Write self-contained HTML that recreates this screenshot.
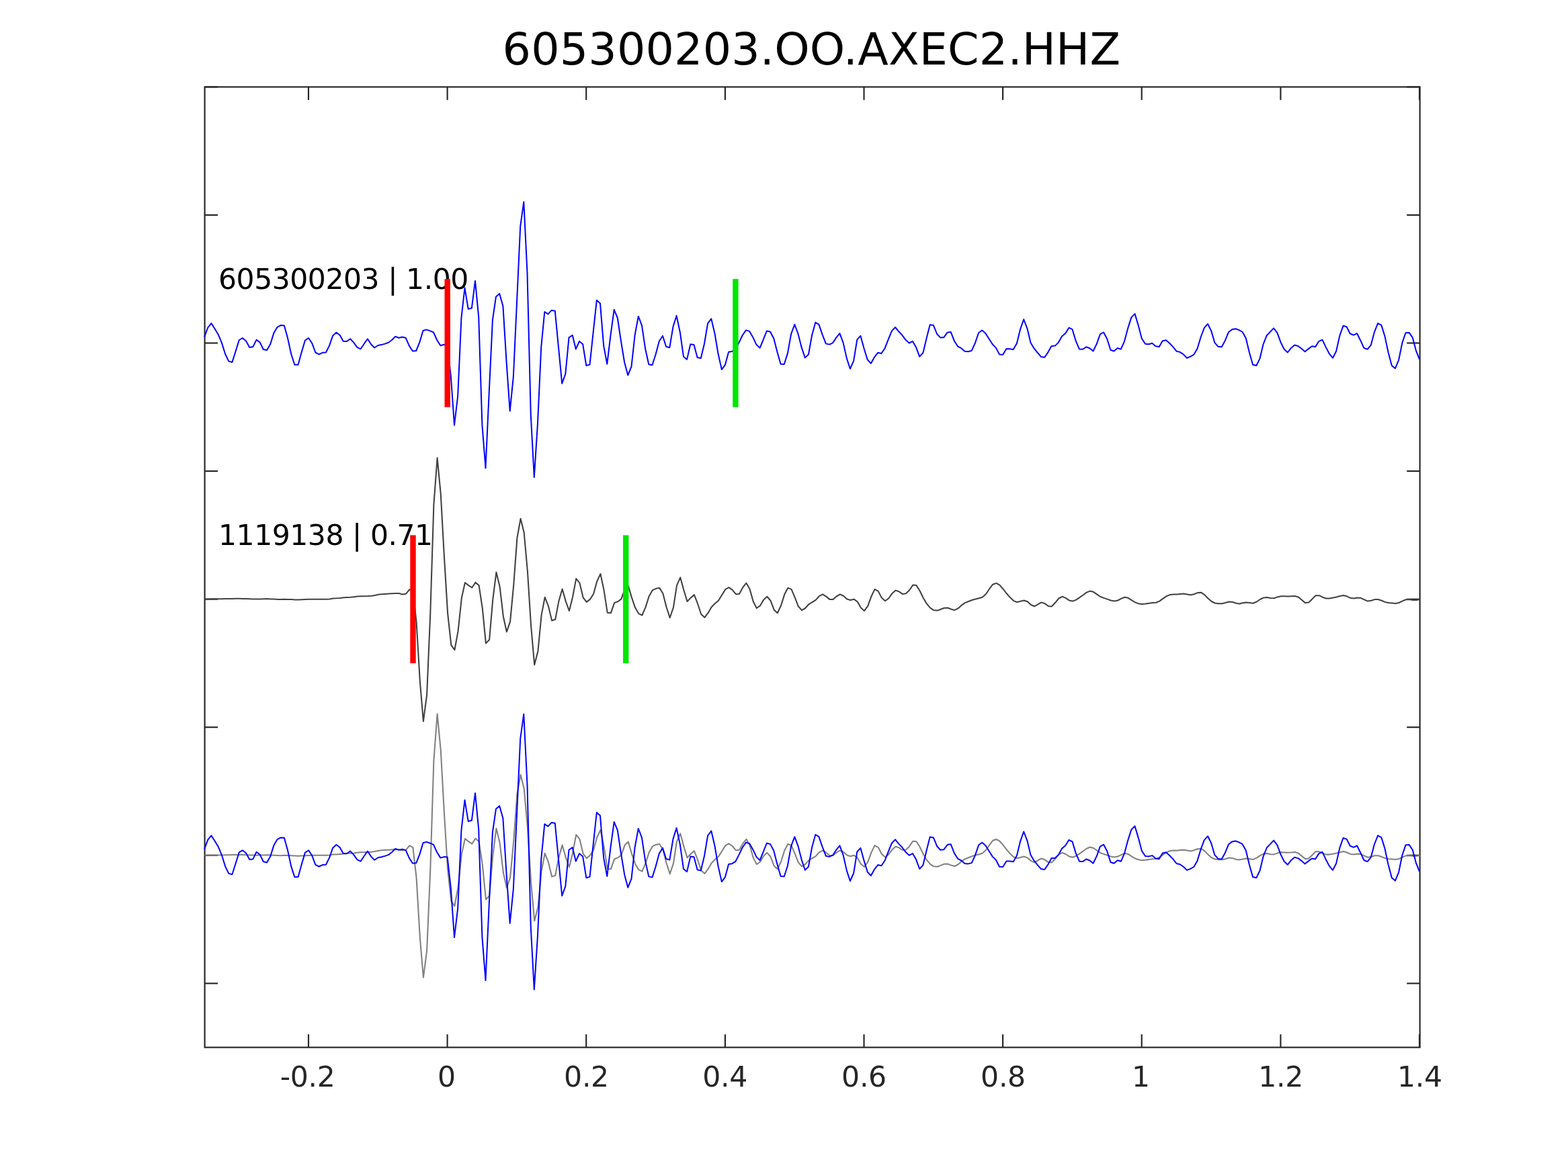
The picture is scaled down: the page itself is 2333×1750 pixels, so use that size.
<!DOCTYPE html>
<html lang="en">
<head>
<meta charset="utf-8">
<title>605300203.OO.AXEC2.HHZ</title>
<style>
html,body{margin:0;padding:0;background:#fff;}
body{width:2333px;height:1750px;overflow:hidden;}
svg{display:block;}
text{font-family:"DejaVu Sans","Liberation Sans",sans-serif;}
</style>
</head>
<body>
<svg width="2333" height="1750" viewBox="0 0 2333 1750">
<rect x="0" y="0" width="2333" height="1750" fill="#ffffff"/>
<g stroke="#262626" stroke-width="2.15" fill="none" stroke-linecap="square">
<rect x="304.6" y="129.4" width="1808.0" height="1429.2"/>
</g>
<g stroke="#262626" stroke-width="2.15" fill="none" stroke-linecap="butt">
<line x1="459.0" y1="1558.7" x2="459.0" y2="1539.2"/>
<line x1="459.0" y1="129.4" x2="459.0" y2="148.8"/>
<line x1="665.6" y1="1558.7" x2="665.6" y2="1539.2"/>
<line x1="665.6" y1="129.4" x2="665.6" y2="148.8"/>
<line x1="872.2" y1="1558.7" x2="872.2" y2="1539.2"/>
<line x1="872.2" y1="129.4" x2="872.2" y2="148.8"/>
<line x1="1078.9" y1="1558.7" x2="1078.9" y2="1539.2"/>
<line x1="1078.9" y1="129.4" x2="1078.9" y2="148.8"/>
<line x1="1285.5" y1="1558.7" x2="1285.5" y2="1539.2"/>
<line x1="1285.5" y1="129.4" x2="1285.5" y2="148.8"/>
<line x1="1492.1" y1="1558.7" x2="1492.1" y2="1539.2"/>
<line x1="1492.1" y1="129.4" x2="1492.1" y2="148.8"/>
<line x1="1698.7" y1="1558.7" x2="1698.7" y2="1539.2"/>
<line x1="1698.7" y1="129.4" x2="1698.7" y2="148.8"/>
<line x1="1905.4" y1="1558.7" x2="1905.4" y2="1539.2"/>
<line x1="1905.4" y1="129.4" x2="1905.4" y2="148.8"/>
<line x1="2112.0" y1="1558.7" x2="2112.0" y2="1539.2"/>
<line x1="2112.0" y1="129.4" x2="2112.0" y2="148.8"/>
<line x1="304.6" y1="129.4" x2="324.0" y2="129.4"/>
<line x1="2112.6" y1="129.4" x2="2093.2" y2="129.4"/>
<line x1="304.6" y1="320.0" x2="324.0" y2="320.0"/>
<line x1="2112.6" y1="320.0" x2="2093.2" y2="320.0"/>
<line x1="304.6" y1="510.5" x2="324.0" y2="510.5"/>
<line x1="2112.6" y1="510.5" x2="2093.2" y2="510.5"/>
<line x1="304.6" y1="701.1" x2="324.0" y2="701.1"/>
<line x1="2112.6" y1="701.1" x2="2093.2" y2="701.1"/>
<line x1="304.6" y1="891.7" x2="324.0" y2="891.7"/>
<line x1="2112.6" y1="891.7" x2="2093.2" y2="891.7"/>
<line x1="304.6" y1="1082.2" x2="324.0" y2="1082.2"/>
<line x1="2112.6" y1="1082.2" x2="2093.2" y2="1082.2"/>
<line x1="304.6" y1="1272.8" x2="324.0" y2="1272.8"/>
<line x1="2112.6" y1="1272.8" x2="2093.2" y2="1272.8"/>
<line x1="304.6" y1="1463.4" x2="324.0" y2="1463.4"/>
<line x1="2112.6" y1="1463.4" x2="2093.2" y2="1463.4"/>
</g>
<text x="325.0" y="430.0" font-size="42.50" letter-spacing="-0.47" fill="#000000">605300203 | 1.00</text>
<text x="325.0" y="811.0" font-size="42.50" letter-spacing="-0.47" fill="#000000">1119138 | 0.71</text>
<g fill="none" stroke-linejoin="round" stroke-linecap="butt">
<polyline stroke="#0000ff" stroke-width="2.00" points="304.1,501.5 309.3,487.5 314.4,481.1 319.6,489.3 324.8,497.9 329.9,510.1 335.1,526.8 340.3,537.6 345.4,539.0 350.6,522.7 355.8,506.0 360.9,503.0 366.1,507.4 371.3,516.9 376.4,516.1 381.6,505.6 386.8,509.6 391.9,520.0 397.1,521.1 402.2,512.3 407.4,495.6 412.6,486.8 417.7,484.1 422.9,484.5 428.1,503.3 433.2,526.8 438.4,542.8 443.6,542.8 448.7,524.1 453.9,506.6 459.1,503.0 464.2,510.7 469.4,524.5 474.6,527.3 479.7,524.8 484.9,524.5 490.1,514.1 495.2,499.4 500.4,494.7 505.6,498.6 510.7,507.8 515.9,508.0 521.1,504.2 526.2,509.6 531.4,516.9 536.6,519.3 541.7,511.7 546.9,504.2 552.1,512.3 557.2,517.5 562.4,514.0 567.6,513.1 572.7,511.6 577.9,509.8 583.0,506.0 588.2,500.8 593.4,502.7 598.5,501.5 603.7,502.8 608.9,514.6 614.0,522.5 619.2,522.0 624.4,509.2 629.5,492.0 634.7,490.6 639.9,492.4 645.0,494.5 650.2,506.0 655.4,514.3 660.5,512.8 665.7,513.2 670.9,560.3 676.0,632.7 681.2,589.0 686.4,473.5 691.5,428.3 696.7,459.9 701.9,458.5 707.0,417.9 712.2,471.6 717.4,632.4 722.5,696.6 727.7,584.5 732.9,476.2 738.0,441.4 743.2,436.9 748.4,455.4 753.5,537.6 758.7,611.6 763.8,561.2 769.0,450.0 774.2,337.0 779.3,300.4 784.5,405.7 789.7,616.2 794.8,710.2 800.0,629.7 805.2,516.9 810.3,464.0 815.5,467.4 820.7,461.7 825.8,462.8 831.0,516.9 836.2,570.7 841.3,556.6 846.5,502.4 851.7,498.8 856.8,519.4 862.0,507.8 867.2,512.3 872.3,544.0 877.5,542.6 882.7,494.2 887.8,446.8 893.0,451.6 898.2,514.6 903.3,541.7 908.5,498.8 913.7,460.8 918.8,473.0 924.0,507.8 929.2,539.5 934.3,558.4 939.5,545.3 944.6,498.8 949.8,470.7 955.0,484.3 960.1,518.7 965.3,542.2 970.5,543.3 975.6,527.3 980.8,507.8 986.0,499.7 991.1,515.8 996.3,517.3 1001.5,486.1 1006.6,469.8 1011.8,494.2 1017.0,530.7 1022.1,534.9 1027.3,512.3 1032.5,513.1 1037.6,532.0 1042.8,533.1 1048.0,511.4 1053.1,481.1 1058.3,474.4 1063.5,496.5 1068.6,526.8 1073.8,549.9 1079.0,542.8 1084.1,523.8 1089.3,522.9 1094.5,519.6 1099.6,509.6 1104.8,498.8 1110.0,491.4 1115.1,492.9 1120.3,501.9 1125.4,512.8 1130.6,517.9 1135.8,505.1 1140.9,492.4 1146.1,493.8 1151.3,503.7 1156.4,523.6 1161.6,541.7 1166.8,542.0 1171.9,525.9 1177.1,497.0 1182.3,482.9 1187.4,496.5 1192.6,516.9 1197.8,532.4 1202.9,527.5 1208.1,498.8 1213.3,479.8 1218.4,482.9 1223.6,497.9 1228.8,511.4 1233.9,512.6 1239.1,510.3 1244.3,502.4 1249.4,496.1 1254.6,510.1 1259.8,533.1 1264.9,548.8 1270.1,537.2 1275.3,505.3 1280.4,499.7 1285.6,518.7 1290.8,535.4 1295.9,540.8 1301.1,531.3 1306.2,524.8 1311.4,525.9 1316.6,518.2 1321.7,505.1 1326.9,492.4 1332.1,487.0 1337.2,493.3 1342.4,498.8 1347.6,505.8 1352.7,510.5 1357.9,507.8 1363.1,516.9 1368.2,530.7 1373.4,525.0 1378.6,503.3 1383.7,483.2 1388.9,484.1 1394.1,497.0 1399.2,502.4 1404.4,501.9 1409.6,494.7 1414.7,494.1 1419.9,507.4 1425.1,515.5 1430.2,518.2 1435.4,522.7 1440.6,523.2 1445.7,521.8 1450.9,510.5 1456.1,495.3 1461.2,491.5 1466.4,496.1 1471.6,504.2 1476.7,512.3 1481.9,517.6 1487.0,527.4 1492.2,527.7 1497.4,519.1 1502.5,519.3 1507.7,520.0 1512.9,511.0 1518.0,490.2 1523.2,475.3 1528.4,488.8 1533.5,510.1 1538.7,518.7 1543.9,525.0 1549.0,530.9 1554.2,531.8 1559.4,524.1 1564.5,514.9 1569.7,514.6 1574.9,509.6 1580.0,500.6 1585.2,496.1 1590.4,487.7 1595.5,490.2 1600.7,507.4 1605.9,519.4 1611.0,519.8 1616.2,516.2 1621.4,518.2 1626.5,522.5 1631.7,511.9 1636.9,497.4 1642.0,494.5 1647.2,504.2 1652.4,520.7 1657.5,522.5 1662.7,518.0 1667.8,519.6 1673.0,507.8 1678.2,488.4 1683.3,472.4 1688.5,466.9 1693.7,484.3 1698.8,503.7 1704.0,511.7 1709.2,512.2 1714.3,510.8 1719.5,515.2 1724.7,515.9 1729.8,507.2 1735.0,506.3 1740.2,510.7 1745.3,516.1 1750.5,522.7 1755.7,523.9 1760.8,527.4 1766.0,532.7 1771.2,530.6 1776.3,527.7 1781.5,518.7 1786.7,501.5 1791.8,487.9 1797.0,482.0 1802.2,492.4 1807.3,509.9 1812.5,515.8 1817.7,516.2 1822.8,506.9 1828.0,494.2 1833.2,490.2 1838.3,489.3 1843.5,491.1 1848.6,494.0 1853.8,503.3 1859.0,525.0 1864.1,542.8 1869.3,544.0 1874.5,533.6 1879.6,512.3 1884.8,499.2 1890.0,493.8 1895.1,488.4 1900.3,495.2 1905.5,509.2 1910.6,519.6 1915.8,524.5 1921.0,517.9 1926.1,513.5 1931.3,514.9 1936.5,518.7 1941.6,523.2 1946.8,519.1 1952.0,515.2 1957.1,516.1 1962.3,507.8 1967.5,505.6 1972.6,516.4 1977.8,526.3 1983.0,532.7 1988.1,522.7 1993.3,499.7 1998.5,484.8 2003.6,486.3 2008.8,496.5 2014.0,498.6 2019.1,496.2 2024.3,506.7 2029.4,517.8 2034.6,519.8 2039.8,513.4 2044.9,494.2 2050.1,481.1 2055.3,483.9 2060.4,500.1 2065.6,524.5 2070.8,544.0 2075.9,548.3 2081.1,535.8 2086.3,510.5 2091.4,495.3 2096.6,494.9 2101.8,502.4 2106.9,521.8 2112.1,534.9"/>
<polyline stroke="#404040" stroke-width="2.05" points="304.5,891.4 309.7,891.4 314.8,891.3 320.0,891.3 325.2,891.3 330.3,891.2 335.5,891.1 340.7,891.0 345.8,890.9 351.0,890.8 356.2,890.8 361.3,891.0 366.5,891.1 371.7,891.3 376.8,891.4 382.0,891.6 387.2,891.4 392.3,891.3 397.5,891.1 402.6,891.4 407.8,891.6 413.0,891.9 418.1,892.1 423.3,891.7 428.5,891.9 433.6,892.1 438.8,892.4 444.0,892.6 449.1,892.3 454.3,892.1 459.5,891.8 464.6,891.7 469.8,891.7 475.0,891.7 480.1,891.7 485.3,891.7 490.5,891.4 495.6,890.5 500.8,890.3 506.0,889.9 511.1,889.3 516.3,889.0 521.5,888.7 526.6,888.2 531.8,887.6 537.0,887.2 542.1,887.2 547.3,887.1 552.5,886.7 557.6,886.0 562.8,884.8 568.0,884.2 573.1,883.9 578.3,883.5 583.4,883.2 588.6,882.9 593.8,883.1 598.9,884.4 604.1,883.7 609.3,877.2 614.4,880.0 619.6,925.3 624.8,1013.3 629.9,1073.4 635.1,1034.1 640.3,912.5 645.4,750.9 650.6,681.3 655.8,735.5 660.9,828.0 666.1,912.6 671.3,959.8 676.4,967.2 681.6,938.9 686.8,890.0 691.9,867.0 697.1,871.1 702.3,874.5 707.4,866.7 712.6,871.1 717.8,905.4 722.9,957.4 728.1,952.0 733.3,891.9 738.4,851.6 743.6,872.9 748.8,917.2 753.9,940.2 759.1,924.9 764.2,871.0 769.4,800.6 774.6,771.7 779.7,792.5 784.9,850.0 790.1,931.5 795.2,989.3 800.4,969.0 805.6,915.4 810.7,888.7 815.9,901.8 821.1,923.5 826.2,921.7 831.4,894.6 836.6,876.5 841.7,894.6 846.9,909.0 852.1,888.2 857.2,861.1 862.4,867.4 867.6,889.1 872.7,895.9 877.9,891.9 883.1,883.7 888.2,865.2 893.4,853.9 898.6,878.3 903.7,911.7 908.9,912.2 914.1,897.1 919.2,895.3 924.4,891.4 929.6,876.5 934.7,871.5 939.9,889.1 945.0,904.1 950.2,913.1 955.4,915.5 960.5,903.6 965.7,887.3 970.9,878.3 976.0,875.8 981.2,874.9 986.4,883.3 991.5,903.2 996.7,919.2 1001.9,904.1 1007.0,871.1 1012.2,859.3 1017.4,878.3 1022.5,895.0 1027.7,889.6 1032.9,885.1 1038.0,898.2 1043.2,914.0 1048.4,918.8 1053.5,912.2 1058.7,903.2 1063.9,898.0 1069.0,893.7 1074.2,885.3 1079.4,876.9 1084.5,874.2 1089.7,877.8 1094.9,884.2 1100.0,883.7 1105.2,874.2 1110.4,867.7 1115.5,876.5 1120.7,895.0 1125.8,905.0 1131.0,901.3 1136.2,892.6 1141.3,887.8 1146.5,893.7 1151.7,907.4 1156.8,912.2 1162.0,901.3 1167.2,884.6 1172.3,874.9 1177.5,876.9 1182.7,889.1 1187.8,902.3 1193.0,908.1 1198.2,905.0 1203.3,899.3 1208.5,896.1 1213.7,892.9 1218.8,887.2 1224.0,884.4 1229.2,887.6 1234.3,891.9 1239.5,891.9 1244.7,887.5 1249.8,884.4 1255.0,886.7 1260.2,891.4 1265.3,893.0 1270.5,891.7 1275.7,895.3 1280.8,904.3 1286.0,908.9 1291.2,901.8 1296.3,887.8 1301.5,876.9 1306.6,879.6 1311.8,889.6 1317.0,894.3 1322.1,890.5 1327.3,883.3 1332.5,878.6 1337.6,880.3 1342.8,883.9 1348.0,883.3 1353.1,878.3 1358.3,870.6 1363.5,871.1 1368.6,879.2 1373.8,890.0 1379.0,898.6 1384.1,904.7 1389.3,908.1 1394.5,908.6 1399.6,906.8 1404.8,904.7 1410.0,904.5 1415.1,906.5 1420.3,907.9 1425.5,905.4 1430.6,900.7 1435.8,897.1 1441.0,895.0 1446.1,893.0 1451.3,891.4 1456.5,890.2 1461.6,888.7 1466.8,884.2 1472.0,876.5 1477.1,869.7 1482.3,867.9 1487.4,870.6 1492.6,876.5 1497.8,883.3 1502.9,889.1 1508.1,894.1 1513.3,896.1 1518.4,894.8 1523.6,893.5 1528.8,895.3 1533.9,900.0 1539.1,902.3 1544.3,899.3 1549.4,896.4 1554.6,898.2 1559.8,902.0 1564.9,902.4 1570.1,896.8 1575.3,890.5 1580.4,887.8 1585.6,889.9 1590.8,893.4 1595.9,894.6 1601.1,892.6 1606.3,889.1 1611.4,885.5 1616.6,881.6 1621.8,879.6 1626.9,880.8 1632.1,884.3 1637.3,888.0 1642.4,889.9 1647.6,891.6 1652.8,893.5 1657.9,894.4 1663.1,893.5 1668.2,890.9 1673.4,888.7 1678.6,889.8 1683.7,893.2 1688.9,896.4 1694.1,898.2 1699.2,899.1 1704.4,898.6 1709.6,897.7 1714.7,897.1 1719.9,896.8 1725.1,894.6 1730.2,890.9 1735.4,887.3 1740.6,885.1 1745.7,884.4 1750.9,884.6 1756.1,884.0 1761.2,883.5 1766.4,884.4 1771.6,885.3 1776.7,884.2 1781.9,882.1 1787.1,881.7 1792.2,885.1 1797.4,890.5 1802.6,895.0 1807.7,897.5 1812.9,898.2 1818.1,898.2 1823.2,897.1 1828.4,895.5 1833.6,895.7 1838.7,897.5 1843.9,898.5 1849.0,897.3 1854.2,896.4 1859.4,897.1 1864.5,897.7 1869.7,895.5 1874.9,892.0 1880.0,889.4 1885.2,888.9 1890.4,890.0 1895.5,890.2 1900.7,888.4 1905.9,887.2 1911.0,887.3 1916.2,887.6 1921.4,887.3 1926.5,886.9 1931.7,888.4 1936.9,892.8 1942.0,897.1 1947.2,896.4 1952.4,891.4 1957.5,886.2 1962.7,886.2 1967.9,888.7 1973.0,890.5 1978.2,890.5 1983.4,889.6 1988.5,888.4 1993.7,887.1 1998.9,886.0 2004.0,887.3 2009.2,889.8 2014.4,890.5 2019.5,889.6 2024.7,889.8 2029.8,892.3 2035.0,894.6 2040.2,893.8 2045.3,892.1 2050.5,892.0 2055.7,893.8 2060.8,895.9 2066.0,897.1 2071.2,897.5 2076.3,898.0 2081.5,897.0 2086.7,894.4 2091.8,892.3 2097.0,892.0 2102.2,892.9 2107.3,892.9 2112.5,891.9"/>
<polyline stroke="#808080" stroke-width="2.05" points="304.5,1272.5 309.7,1272.5 314.8,1272.5 320.0,1272.4 325.2,1272.4 330.3,1272.4 335.5,1272.3 340.7,1272.2 345.8,1272.1 351.0,1272.0 356.2,1271.9 361.3,1272.1 366.5,1272.3 371.7,1272.4 376.8,1272.6 382.0,1272.7 387.2,1272.6 392.3,1272.4 397.5,1272.3 402.6,1272.5 407.8,1272.8 413.0,1273.0 418.1,1273.3 423.3,1272.8 428.5,1273.0 433.6,1273.3 438.8,1273.5 444.0,1273.7 449.1,1273.5 454.3,1273.2 459.5,1273.0 464.6,1272.8 469.8,1272.8 475.0,1272.8 480.1,1272.8 485.3,1272.8 490.5,1272.5 495.6,1271.6 500.8,1271.4 506.0,1271.0 511.1,1270.5 516.3,1270.1 521.5,1269.8 526.6,1269.4 531.8,1268.7 537.0,1268.3 542.1,1268.3 547.3,1268.2 552.5,1267.8 557.6,1267.1 562.8,1265.9 568.0,1265.3 573.1,1265.0 578.3,1264.7 583.4,1264.3 588.6,1264.0 593.8,1264.2 598.9,1265.6 604.1,1264.8 609.3,1258.3 614.4,1261.1 619.6,1306.4 624.8,1394.4 629.9,1454.5 635.1,1415.2 640.3,1293.6 645.4,1132.0 650.6,1062.4 655.8,1116.6 660.9,1209.1 666.1,1293.7 671.3,1340.9 676.4,1348.3 681.6,1320.0 686.8,1271.1 691.9,1248.1 697.1,1252.2 702.3,1255.6 707.4,1247.8 712.6,1252.2 717.8,1286.5 722.9,1338.5 728.1,1333.1 733.3,1273.0 738.4,1232.7 743.6,1254.0 748.8,1298.3 753.9,1321.3 759.1,1306.0 764.2,1252.1 769.4,1181.7 774.6,1152.8 779.7,1173.6 784.9,1231.1 790.1,1312.6 795.2,1370.4 800.4,1350.1 805.6,1296.5 810.7,1269.8 815.9,1282.9 821.1,1304.6 826.2,1302.8 831.4,1275.7 836.6,1257.6 841.7,1275.7 846.9,1290.2 852.1,1269.4 857.2,1242.2 862.4,1248.6 867.6,1270.3 872.7,1277.1 877.9,1273.0 883.1,1264.8 888.2,1246.3 893.4,1235.0 898.6,1259.4 903.7,1292.9 908.9,1293.3 914.1,1278.2 919.2,1276.4 924.4,1272.5 929.6,1257.6 934.7,1252.6 939.9,1270.3 945.0,1285.2 950.2,1294.2 955.4,1296.7 960.5,1284.7 965.7,1268.5 970.9,1259.4 976.0,1256.9 981.2,1256.0 986.4,1264.4 991.5,1284.3 996.7,1300.4 1001.9,1285.2 1007.0,1252.2 1012.2,1240.4 1017.4,1259.4 1022.5,1276.2 1027.7,1270.7 1032.9,1266.2 1038.0,1279.3 1043.2,1295.1 1048.4,1299.9 1053.5,1293.3 1058.7,1284.3 1063.9,1279.1 1069.0,1274.8 1074.2,1266.5 1079.4,1258.1 1084.5,1255.4 1089.7,1259.0 1094.9,1265.3 1100.0,1264.8 1105.2,1255.4 1110.4,1248.8 1115.5,1257.6 1120.7,1276.2 1125.8,1286.1 1131.0,1282.5 1136.2,1273.7 1141.3,1268.9 1146.5,1274.8 1151.7,1288.5 1156.8,1293.3 1162.0,1282.5 1167.2,1265.8 1172.3,1256.0 1177.5,1258.1 1182.7,1270.3 1187.8,1283.4 1193.0,1289.3 1198.2,1286.1 1203.3,1280.4 1208.5,1277.2 1213.7,1274.1 1218.8,1268.3 1224.0,1265.6 1229.2,1268.7 1234.3,1273.0 1239.5,1273.0 1244.7,1268.6 1249.8,1265.6 1255.0,1267.8 1260.2,1272.5 1265.3,1274.2 1270.5,1272.8 1275.7,1276.4 1280.8,1285.5 1286.0,1290.0 1291.2,1282.9 1296.3,1268.9 1301.5,1258.1 1306.6,1260.8 1311.8,1270.7 1317.0,1275.4 1322.1,1271.6 1327.3,1264.4 1332.5,1259.7 1337.6,1261.4 1342.8,1265.0 1348.0,1264.4 1353.1,1259.4 1358.3,1251.7 1363.5,1252.2 1368.6,1260.3 1373.8,1271.2 1379.0,1279.8 1384.1,1285.8 1389.3,1289.3 1394.5,1289.7 1399.6,1287.9 1404.8,1285.8 1410.0,1285.6 1415.1,1287.6 1420.3,1289.0 1425.5,1286.5 1430.6,1281.8 1435.8,1278.2 1441.0,1276.2 1446.1,1274.2 1451.3,1272.5 1456.5,1271.4 1461.6,1269.8 1466.8,1265.3 1472.0,1257.6 1477.1,1250.8 1482.3,1249.0 1487.4,1251.7 1492.6,1257.6 1497.8,1264.4 1502.9,1270.3 1508.1,1275.2 1513.3,1277.2 1518.4,1276.0 1523.6,1274.6 1528.8,1276.4 1533.9,1281.1 1539.1,1283.4 1544.3,1280.4 1549.4,1277.5 1554.6,1279.3 1559.8,1283.1 1564.9,1283.6 1570.1,1278.0 1575.3,1271.6 1580.4,1268.9 1585.6,1271.0 1590.8,1274.5 1595.9,1275.7 1601.1,1273.7 1606.3,1270.3 1611.4,1266.7 1616.6,1262.8 1621.8,1260.8 1626.9,1262.0 1632.1,1265.5 1637.3,1269.1 1642.4,1271.0 1647.6,1272.7 1652.8,1274.6 1657.9,1275.5 1663.1,1274.6 1668.2,1272.1 1673.4,1269.8 1678.6,1270.9 1683.7,1274.3 1688.9,1277.5 1694.1,1279.3 1699.2,1280.2 1704.4,1279.8 1709.6,1278.9 1714.7,1278.2 1719.9,1278.0 1725.1,1275.7 1730.2,1272.1 1735.4,1268.5 1740.6,1266.2 1745.7,1265.6 1750.9,1265.8 1756.1,1265.1 1761.2,1264.7 1766.4,1265.6 1771.6,1266.5 1776.7,1265.3 1781.9,1263.2 1787.1,1262.9 1792.2,1266.2 1797.4,1271.6 1802.6,1276.2 1807.7,1278.6 1812.9,1279.3 1818.1,1279.3 1823.2,1278.2 1828.4,1276.6 1833.6,1276.9 1838.7,1278.7 1843.9,1279.6 1849.0,1278.4 1854.2,1277.5 1859.4,1278.2 1864.5,1278.9 1869.7,1276.6 1874.9,1273.2 1880.0,1270.5 1885.2,1270.0 1890.4,1271.2 1895.5,1271.4 1900.7,1269.6 1905.9,1268.3 1911.0,1268.5 1916.2,1268.7 1921.4,1268.5 1926.5,1268.0 1931.7,1269.6 1936.9,1273.9 1942.0,1278.2 1947.2,1277.5 1952.4,1272.5 1957.5,1267.3 1962.7,1267.3 1967.9,1269.8 1973.0,1271.6 1978.2,1271.6 1983.4,1270.7 1988.5,1269.6 1993.7,1268.2 1998.9,1267.1 2004.0,1268.5 2009.2,1270.9 2014.4,1271.6 2019.5,1270.7 2024.7,1270.9 2029.8,1273.4 2035.0,1275.7 2040.2,1275.0 2045.3,1273.3 2050.5,1273.2 2055.7,1275.0 2060.8,1277.1 2066.0,1278.2 2071.2,1278.6 2076.3,1279.1 2081.5,1278.1 2086.7,1275.5 2091.8,1273.4 2097.0,1273.2 2102.2,1274.1 2107.3,1274.1 2112.5,1273.0"/>
<polyline stroke="#0000ff" stroke-width="2.00" points="304.1,1263.7 309.3,1249.7 314.4,1243.4 319.6,1251.5 324.8,1260.1 329.9,1272.3 335.1,1289.1 340.3,1299.9 345.4,1301.3 350.6,1285.0 355.8,1268.3 360.9,1265.3 366.1,1269.6 371.3,1279.1 376.4,1278.4 381.6,1267.8 386.8,1271.9 391.9,1282.3 397.1,1283.4 402.2,1274.6 407.4,1257.9 412.6,1249.1 417.7,1246.4 422.9,1246.8 428.1,1265.6 433.2,1289.1 438.4,1305.1 443.6,1305.1 448.7,1286.4 453.9,1268.9 459.1,1265.3 464.2,1273.0 469.4,1286.8 474.6,1289.5 479.7,1287.1 484.9,1286.8 490.1,1276.4 495.2,1261.7 500.4,1257.0 505.6,1260.9 510.7,1270.1 515.9,1270.3 521.1,1266.5 526.2,1271.9 531.4,1279.1 536.6,1281.6 541.7,1274.0 546.9,1266.5 552.1,1274.6 557.2,1279.8 562.4,1276.2 567.6,1275.3 572.7,1273.9 577.9,1272.1 583.0,1268.3 588.2,1263.0 593.4,1264.9 598.5,1263.7 603.7,1265.1 608.9,1276.9 614.0,1284.7 619.2,1284.3 624.4,1271.4 629.5,1254.3 634.7,1252.9 639.9,1254.7 645.0,1256.8 650.2,1268.3 655.4,1276.6 660.5,1275.1 665.7,1275.5 670.9,1322.6 676.0,1395.0 681.2,1351.3 686.4,1235.8 691.5,1190.6 696.7,1222.2 701.9,1220.8 707.0,1180.2 712.2,1233.9 717.4,1394.7 722.5,1458.9 727.7,1346.8 732.9,1238.5 738.0,1203.7 743.2,1199.2 748.4,1217.7 753.5,1299.9 758.7,1373.9 763.8,1323.5 769.0,1212.3 774.2,1099.3 779.3,1062.7 784.5,1168.0 789.7,1378.5 794.8,1472.5 800.0,1392.0 805.2,1279.2 810.3,1226.3 815.5,1229.7 820.7,1224.0 825.8,1225.1 831.0,1279.2 836.2,1333.0 841.3,1318.9 846.5,1264.7 851.7,1261.0 856.8,1281.7 862.0,1270.1 867.2,1274.6 872.3,1306.2 877.5,1304.9 882.7,1256.5 887.8,1209.0 893.0,1213.8 898.2,1276.9 903.3,1304.0 908.5,1261.0 913.7,1223.1 918.8,1235.3 924.0,1270.1 929.2,1301.7 934.3,1320.7 939.5,1307.6 944.6,1261.0 949.8,1233.0 955.0,1246.6 960.1,1280.9 965.3,1304.4 970.5,1305.6 975.6,1289.5 980.8,1270.1 986.0,1261.9 991.1,1278.0 996.3,1279.6 1001.5,1248.4 1006.6,1232.1 1011.8,1256.5 1017.0,1293.0 1022.1,1297.2 1027.3,1274.6 1032.5,1275.3 1037.6,1294.3 1042.8,1295.4 1048.0,1273.7 1053.1,1243.4 1058.3,1236.6 1063.5,1258.8 1068.6,1289.1 1073.8,1312.1 1079.0,1305.1 1084.1,1286.1 1089.3,1285.2 1094.5,1281.8 1099.6,1271.9 1104.8,1261.0 1110.0,1253.6 1115.1,1255.2 1120.3,1264.2 1125.4,1275.1 1130.6,1280.2 1135.8,1267.4 1140.9,1254.7 1146.1,1256.1 1151.3,1266.0 1156.4,1285.9 1161.6,1304.0 1166.8,1304.3 1171.9,1288.2 1177.1,1259.2 1182.3,1245.2 1187.4,1258.8 1192.6,1279.1 1197.8,1294.7 1202.9,1289.8 1208.1,1261.0 1213.3,1242.0 1218.4,1245.2 1223.6,1260.1 1228.8,1273.7 1233.9,1274.9 1239.1,1272.6 1244.3,1264.7 1249.4,1258.3 1254.6,1272.3 1259.8,1295.4 1264.9,1311.0 1270.1,1299.5 1275.3,1267.5 1280.4,1261.9 1285.6,1280.9 1290.8,1297.7 1295.9,1303.1 1301.1,1293.6 1306.2,1287.1 1311.4,1288.2 1316.6,1280.5 1321.7,1267.4 1326.9,1254.7 1332.1,1249.3 1337.2,1255.6 1342.4,1261.0 1347.6,1268.1 1352.7,1272.8 1357.9,1270.1 1363.1,1279.1 1368.2,1293.0 1373.4,1287.3 1378.6,1265.6 1383.7,1245.5 1388.9,1246.4 1394.1,1259.2 1399.2,1264.7 1404.4,1264.2 1409.6,1257.0 1414.7,1256.3 1419.9,1269.6 1425.1,1277.8 1430.2,1280.5 1435.4,1285.0 1440.6,1285.4 1445.7,1284.1 1450.9,1272.8 1456.1,1257.6 1461.2,1253.8 1466.4,1258.3 1471.6,1266.5 1476.7,1274.6 1481.9,1279.8 1487.0,1289.7 1492.2,1290.0 1497.4,1281.4 1502.5,1281.6 1507.7,1282.3 1512.9,1273.2 1518.0,1252.4 1523.2,1237.5 1528.4,1251.1 1533.5,1272.3 1538.7,1280.9 1543.9,1287.3 1549.0,1293.1 1554.2,1294.0 1559.4,1286.4 1564.5,1277.1 1569.7,1276.9 1574.9,1271.9 1580.0,1262.8 1585.2,1258.3 1590.4,1250.0 1595.5,1252.4 1600.7,1269.6 1605.9,1281.7 1611.0,1282.1 1616.2,1278.5 1621.4,1280.5 1626.5,1284.7 1631.7,1274.1 1636.9,1259.7 1642.0,1256.8 1647.2,1266.5 1652.4,1283.0 1657.5,1284.7 1662.7,1280.3 1667.8,1281.8 1673.0,1270.1 1678.2,1250.6 1683.3,1234.6 1688.5,1229.2 1693.7,1246.6 1698.8,1266.0 1704.0,1274.0 1709.2,1274.4 1714.3,1273.1 1719.5,1277.5 1724.7,1278.2 1729.8,1269.4 1735.0,1268.5 1740.2,1273.0 1745.3,1278.4 1750.5,1285.0 1755.7,1286.2 1760.8,1289.7 1766.0,1294.9 1771.2,1292.9 1776.3,1290.0 1781.5,1280.9 1786.7,1263.7 1791.8,1250.2 1797.0,1244.3 1802.2,1254.7 1807.3,1272.2 1812.5,1278.0 1817.7,1278.5 1822.8,1269.2 1828.0,1256.5 1833.2,1252.4 1838.3,1251.5 1843.5,1253.4 1848.6,1256.2 1853.8,1265.6 1859.0,1287.3 1864.1,1305.1 1869.3,1306.2 1874.5,1295.8 1879.6,1274.6 1884.8,1261.5 1890.0,1256.1 1895.1,1250.6 1900.3,1257.4 1905.5,1271.4 1910.6,1281.8 1915.8,1286.8 1921.0,1280.2 1926.1,1275.8 1931.3,1277.1 1936.5,1280.9 1941.6,1285.4 1946.8,1281.4 1952.0,1277.5 1957.1,1278.4 1962.3,1270.1 1967.5,1267.8 1972.6,1278.7 1977.8,1288.6 1983.0,1294.9 1988.1,1285.0 1993.3,1261.9 1998.5,1247.0 2003.6,1248.6 2008.8,1258.8 2014.0,1260.9 2019.1,1258.5 2024.3,1269.0 2029.4,1280.0 2034.6,1282.1 2039.8,1275.7 2044.9,1256.5 2050.1,1243.4 2055.3,1246.1 2060.4,1262.4 2065.6,1286.8 2070.8,1306.2 2075.9,1310.6 2081.1,1298.1 2086.3,1272.8 2091.4,1257.6 2096.6,1257.1 2101.8,1264.7 2106.9,1284.1 2112.1,1297.2"/>
</g>
<rect x="661.5" y="415.2" width="8.4" height="190.6" fill="#ff0000"/>
<rect x="1090.2" y="415.2" width="8.4" height="190.6" fill="#00e600"/>
<rect x="610.3" y="796.4" width="8.4" height="190.6" fill="#ff0000"/>
<rect x="927.0" y="796.4" width="8.4" height="190.6" fill="#00e600"/>
<g font-size="42.60" letter-spacing="-0.3" fill="#262626" text-anchor="middle">
<text x="457.7" y="1617.0">-0.2</text>
<text x="664.3" y="1617.0">0</text>
<text x="872.5" y="1617.0">0.2</text>
<text x="1078.7" y="1617.0">0.4</text>
<text x="1285.5" y="1617.0">0.6</text>
<text x="1492.5" y="1617.0">0.8</text>
<text x="1697.4" y="1617.0">1</text>
<text x="1905.7" y="1617.0">1.2</text>
<text x="2112.4" y="1617.0">1.4</text>
</g>
<text x="1207.4" y="95.9" font-size="66.67" letter-spacing="0.18" fill="#000000" text-anchor="middle">605300203.OO.AXEC2.HHZ</text>
</svg>
</body>
</html>
